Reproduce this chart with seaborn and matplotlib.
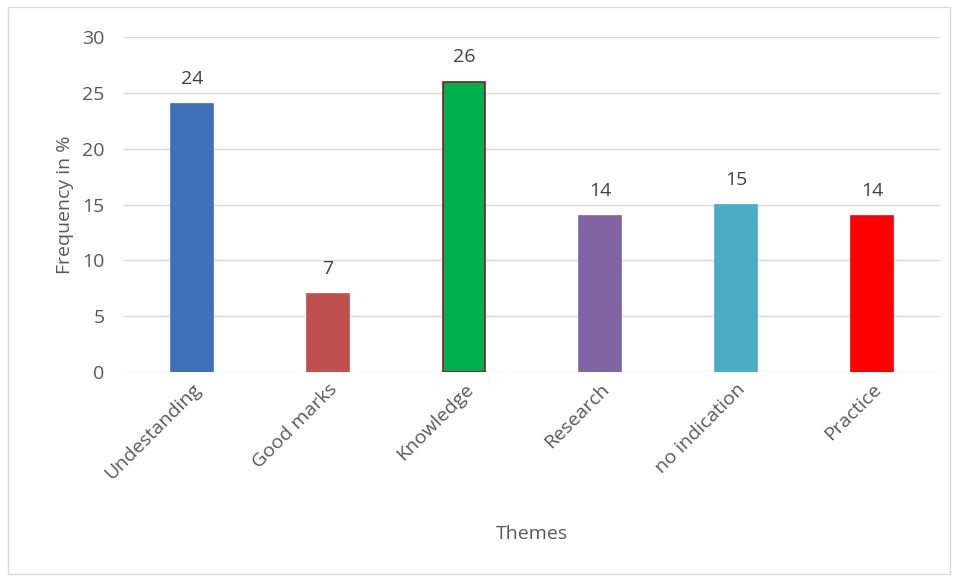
import matplotlib
matplotlib.use("Agg")
import matplotlib.pyplot as plt
import seaborn as sns
import pandas as pd
from matplotlib.patches import Rectangle

themes = ["Undestanding", "Good marks", "Knowledge", "Research", "no indication", "Practice"]
frequency = [24, 7, 26, 14, 15, 14]
colors = ["#3F70BA", "#C0504D", "#00B04F", "#8064A2", "#4BACC6", "#FF0000"]
edges = ["#3F70BA", "#C0504D", "#8B1A1A", "#8064A2", "#4BACC6", "#FF0000"]
yticks = [0, 5, 10, 15, 20, 25, 30]

df = pd.DataFrame({"Themes": themes, "Frequency": frequency})

sns.set_theme(style="white")
plt.rcParams["font.family"] = ["Open Sans", "DejaVu Sans"]
text_color = "#595959"

fig = plt.figure(figsize=(9.57, 5.81), dpi=100)
ax = fig.add_axes([0.1296, 0.360, 0.853, 0.576])

sns.barplot(data=df, x="Themes", y="Frequency", hue="Themes", palette=colors,
            legend=False, width=0.31, ax=ax, saturation=1)
for p, ec in zip(ax.patches, edges):
    p.set_edgecolor(ec)
    p.set_linewidth(1.2)

for i, v in enumerate(frequency):
    ax.text(i, v + 1.4, str(v), ha="center", va="bottom", fontsize=14, color="#404040")

ax.set_ylim(0, 30)
ax.set_xlim(-0.5, 5.5)
ax.set_yticks(yticks)
ax.set_yticklabels([str(t) for t in yticks], fontsize=14, color=text_color)
ax.yaxis.grid(True, color="#D9D9D9", linewidth=1)
ax.set_axisbelow(True)
for s in ax.spines.values():
    s.set_visible(False)
ax.tick_params(axis="y", length=0, pad=14)
ax.tick_params(axis="x", length=0, pad=6)
ax.set_xticks(range(len(themes)))
ax.set_xticklabels(themes, rotation=45, ha="right", rotation_mode="anchor",
                   fontsize=14, color=text_color)
for lab in ax.get_xticklabels():
    lab.set_x(lab.get_position()[0])
ax.set_xlabel("Themes", fontsize=14, color=text_color, labelpad=30)
ax.set_ylabel("Frequency in %", fontsize=14, color=text_color, labelpad=6)

fig.patches.append(Rectangle((0.008, 0.012), 0.985, 0.976, transform=fig.transFigure,
                             fill=False, edgecolor="#D9D9D9", linewidth=1))

fig.savefig("out.png", dpi=100)
